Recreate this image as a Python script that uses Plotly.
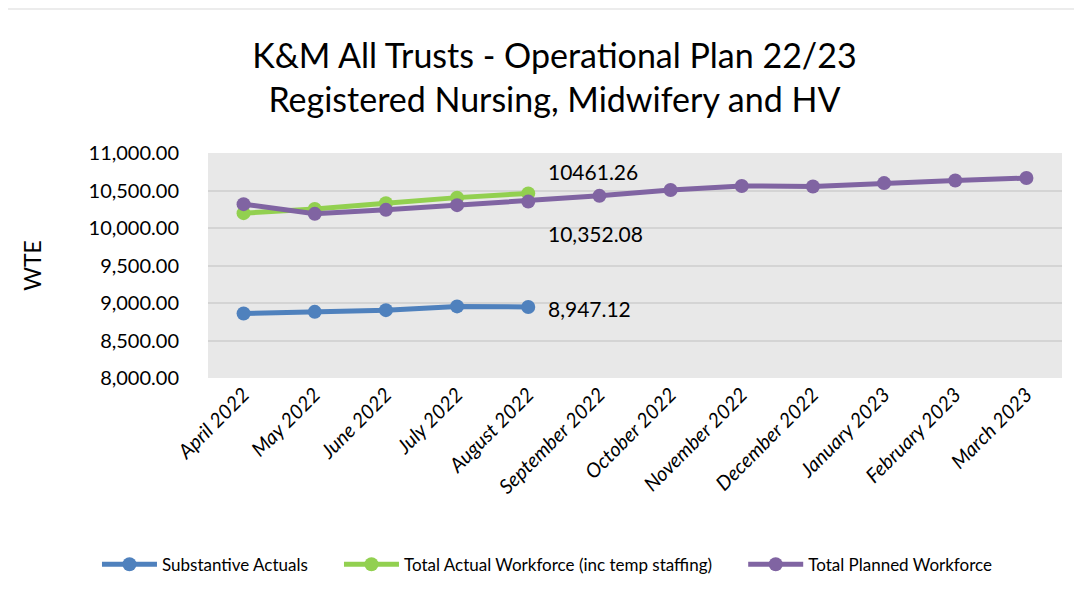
import plotly.graph_objects as go

months = ["April 2022", "May 2022", "June 2022", "July 2022", "August 2022",
          "September 2022", "October 2022", "November 2022", "December 2022",
          "January 2023", "February 2023", "March 2023"]
substantive = [8861, 8882, 8905, 8955, 8947.12]
total_actual = [10198, 10255, 10330, 10405, 10461.26]
planned = [10318, 10189, 10242, 10305, 10352.08, 10429, 10507, 10561, 10553, 10599, 10634, 10666]

FONT = "Liberation Sans Narrow, Lato, sans-serif"
blue, green, purple = "#4f81bd", "#92d050", "#8064a2"
PAD = "\u00a0" * 6

fig = go.Figure()
series = [("Substantive Actuals", substantive, blue),
          ("Total Actual Workforce (inc temp staffing)", total_actual, green),
          ("Total Planned Workforce", planned, purple)]
for i, (name, vals, col) in enumerate(series):
    fig.add_trace(go.Scatter(x=months[:len(vals)], y=vals, name=name + (PAD if i < 2 else ""),
                             mode="lines+markers",
                             line=dict(color=col, width=5), marker=dict(color=col, size=14)))

labels = [(total_actual[4], "10461.26", 22), (planned[4], f"{planned[4]:,.2f}", -32),
          (substantive[4], f"{substantive[4]:,.2f}", -2)]
for yv, txt, ys in labels:
    fig.add_annotation(x=months[4], y=yv, text=txt, showarrow=False, xanchor="left",
                       xshift=18, yshift=ys, font=dict(size=21, color="#000", family=FONT))

fig.add_shape(type="rect", xref="paper", yref="paper", x0=-0.239, x1=1.0187, y0=-0.964, y1=1.64,
              line=dict(color="#d9d9d9", width=1), layer="below")

fig.update_layout(
    width=1082, height=591,
    margin=dict(l=200, r=28, t=145, b=221),
    paper_bgcolor="white", plot_bgcolor="#e8e8e8",
    font=dict(family=FONT, color="#000"),
    title=dict(text="K&M All Trusts - Operational Plan 22/23<br>Registered Nursing, Midwifery and HV",
               x=0.505, xanchor="center", y=0.898, yanchor="middle",
               font=dict(size=34, family=FONT, color="#000")),
    showlegend=True,
    legend=dict(orientation="h", x=-0.13, xanchor="left", y=-0.83, yanchor="middle",
                font=dict(size=17, family=FONT), itemwidth=55, tracegroupgap=0),
    xaxis=dict(type="category", range=[-0.5, 11.5], tickangle=-45,
               tickfont=dict(size=20, family=FONT, style="italic"), showgrid=False, showline=False, ticks=""),
    yaxis=dict(range=[8000, 11000], dtick=500, tickformat=",.2f", tickfont=dict(size=20, family=FONT),
               gridcolor="#d4d4d4", gridwidth=2, zeroline=False, ticklabelstandoff=28,
               title=dict(text="WTE", font=dict(size=23, family=FONT), standoff=40)),
)
fig.write_html("out.html")
